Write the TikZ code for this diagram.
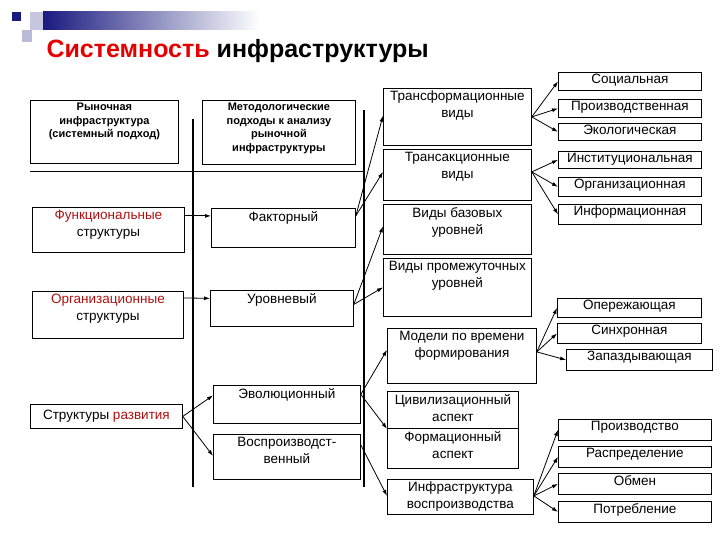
\documentclass[tikz,border=0pt]{standalone}
\usepackage{fontspec}
\setmainfont{Liberation Sans}
\usetikzlibrary{arrows.meta,calc}
\definecolor{dred}{HTML}{B01010}
\definecolor{navy}{HTML}{1A1A80}
\tikzset{
 bx/.style={draw,thick,inner sep=0pt},
 tx/.style={font=\fontsize{13.5}{17}\selectfont,align=center,anchor=north,inner sep=1pt},
 sx/.style={font=\fontsize{13.5}{17}\selectfont,align=center,anchor=north,inner sep=1pt,yshift=1pt},
 hx/.style={font=\fontsize{11}{13.5}\selectfont\bfseries,align=center,anchor=north,inner sep=1pt},
 ar/.style={thick,-{Latex[length=6pt,width=4pt]}},
 ln/.style={line width=1.6pt}
}
% style for text, x1,y1,x2,y2,name,text
\def\B#1#2#3#4#5#6#7{\node[bx,minimum width=#4-#2,minimum height=#5-#3,anchor=north west] (#6) at (#2,#3) {}; \node[#1] (#6t) at ($(#6.north)+(0,2)$) {#7};}
\begin{document}
\begin{tikzpicture}[x=1pt,y=-1pt]
\useasboundingbox (0,0) rectangle (720,540);
\fill[white] (0,0) rectangle (720,540);
% decoration
\shade[left color=navy,right color=white] (43,12) rectangle (260,30);
\fill[navy!25] (30,12) rectangle (43,30);
\fill[navy!30] (22,30) rectangle (32,42);
\fill[navy] (12,12) rectangle (21,21);
\node[anchor=west,font=\fontsize{25}{28}\selectfont\bfseries] (title) at (43,51) {\textcolor{red!90!black}{Системность} инфраструктуры};
% headers
\B{hx}{30}{100}{178}{163}{rin}{Рыночная\\инфраструктура\\(системный подход)}
\B{hx}{202}{100}{355}{164}{met}{Методологические\\подходы к анализу\\рыночной\\инфраструктуры}
\coordinate (hl1) at (30,171); \coordinate (hl2) at (363,171);
\draw[thick] (hl1) -- (hl2);
\coordinate (v1a) at (193,119); \coordinate (v1b) at (193,487);
\coordinate (v2a) at (364,110); \coordinate (v2b) at (364,487);
\draw[ln] (v1a) -- (v1b); \draw[ln] (v2a) -- (v2b);
% column 1
\B{tx}{32}{207}{184}{252}{fun}{\textcolor{dred}{Функциональные}\\структуры}
\B{tx}{32}{291}{183}{338}{org}{\textcolor{dred}{Организационные}\\структуры}
\node[bx,minimum width=152,minimum height=24,anchor=north west] (raz) at (30,404) {};
\node[font=\fontsize{13.5}{17}\selectfont,inner sep=0pt] (razt) at (raz.center) {Структуры \textcolor{dred}{развития}};
% column 2
\B{tx}{211}{208}{355}{247}{fak}{Факторный}
\B{tx}{210}{290}{353}{326}{urv}{Уровневый}
\B{tx}{213}{385}{360}{423}{evo}{Эволюционный}
\B{tx}{213}{434}{360}{479}{vos}{Воспроизводст-\\венный}
% column 3
\B{tx}{383}{88}{531}{145}{trf}{Трансформационные\\виды}
\B{tx}{383}{149}{531}{200}{trs}{Трансакционные\\виды}
\B{tx}{383}{204}{531}{254}{baz}{Виды базовых\\уровней}
\B{tx}{383}{258}{531}{316}{prm}{Виды промежуточных\\уровней}
\B{tx}{387}{328}{536}{383}{mod}{Модели по времени\\формирования}
\B{tx}{387}{391}{518}{428}{civ}{Цивилизационный\\аспект}
\B{tx}{387}{428}{518}{468}{frm}{Формационный\\аспект}
\B{tx}{387}{479}{533}{514}{inf}{Инфраструктура\\воспроизводства}
% column 4
\B{sx}{558}{72}{701}{90}{soc}{Социальная}
\B{sx}{558}{99}{701}{117}{pro}{Производственная}
\B{sx}{558}{123}{701}{140}{eko}{Экологическая}
\B{sx}{558}{151}{701}{168}{ins}{Институциональная}
\B{sx}{558}{177}{701}{196}{orn}{Организационная}
\B{sx}{558}{204}{701}{224}{ifn}{Информационная}
\B{sx}{557}{298}{701}{317}{ope}{Опережающая}
\B{sx}{557}{323}{701}{343}{sin}{Синхронная}
\B{sx}{566}{349}{712}{370}{zap}{Запаздывающая}
\B{sx}{558}{419}{711}{440}{prz}{Производство}
\B{sx}{558}{446}{711}{467}{ras}{Распределение}
\B{sx}{558}{473}{711}{494}{obm}{Обмен}
\B{sx}{558}{501}{711}{522}{pot}{Потребление}
% arrows
\draw[ar] ($(fun.east)+(0,-14)$) -- ($(fak.west)+(0,-12)$);
\draw[ar] ($(org.east)+(0,-17)$) -- ($(urv.west)+(0,-10)$);
\draw[ar] ($(fak.east)+(0,-12)$) -- ($(trf.south west)+(0,-30)$);
\draw[ar] ($(fak.east)+(0,-12)$) -- ($(trs.west)+(0,-3)$);
\draw[ar] ($(urv.east)+(0,-4)$) -- ($(baz.west)+(0,-3)$);
\draw[ar] ($(urv.east)+(0,-4)$) -- ($(prm.west)+(0,0)$);
\draw[ar] ($(raz.east)+(0,0)$) -- ($(evo.west)+(0,-9)$);
\draw[ar] ($(raz.east)+(0,0)$) -- ($(vos.west)+(0,-1)$);
\draw[ar] ($(evo.east)+(0,-10)$) -- ($(mod.west)+(0,-6)$);
\draw[ar] ($(evo.east)+(0,-10)$) -- (civ.south west);
\draw[ar] ($(vos.east)+(0,-12)$) -- ($(inf.west)+(0,-1)$);
\foreach \t in {soc,pro,eko} \draw[ar] ($(trf.east)+(0,0)$) -- (\t.west);
\foreach \t in {ins,orn,ifn} \draw[ar] ($(trs.east)+(0,-3)$) -- (\t.west);
\foreach \t in {ope,sin,zap} \draw[ar] ($(mod.east)+(0,-4)$) -- (\t.west);
\foreach \t in {prz,ras,obm,pot} \draw[ar] ($(inf.east)+(0,-1)$) -- (\t.west);
\end{tikzpicture}
\end{document}
